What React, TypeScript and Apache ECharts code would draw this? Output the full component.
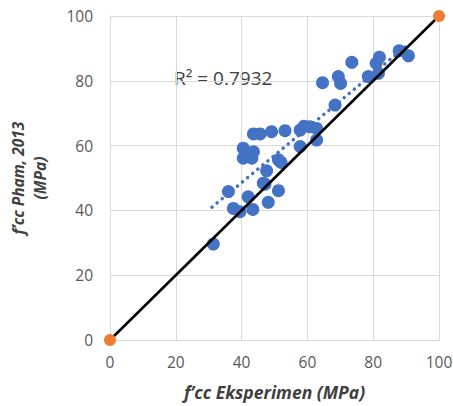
import React, { useEffect, useRef } from "react";
import * as echarts from "echarts";

// Experimental f'cc (MPa)
const expValues: number[] = [
  31.4, 36.0, 37.5, 39.5, 42.0, 43.4, 48.1, 51.2, 47.1, 46.6, 47.6, 51.2, 52.0,
  40.5, 43.6, 40.5, 43.1, 43.6, 45.6, 49.1, 53.2, 57.8, 60.8, 62.8, 57.8, 62.8,
  68.4, 64.6, 69.4, 70.1, 73.5, 78.5, 81.6, 80.9, 81.9, 87.9, 90.7, 59.0,
];
// Predicted f'cc Pham, 2013 (MPa)
const phamValues: number[] = [
  29.6, 45.8, 40.6, 39.6, 44.2, 40.3, 42.5, 46.1, 48.1, 48.4, 52.2, 55.6, 54.8,
  59.2, 58.1, 56.1, 56.1, 63.6, 63.6, 64.3, 64.6, 64.8, 65.8, 65.3, 59.7, 61.7,
  72.5, 79.4, 81.3, 79.2, 85.7, 81.3, 82.3, 85.4, 87.3, 89.3, 87.7, 66.0,
];
// 1:1 reference line
const refLine: number[][] = [
  [0, 0],
  [100, 100],
];
// Linear trendline endpoints
const trendLine: number[][] = [
  [31, 41],
  [91, 91.5],
];
const r2Label = "R² = 0.7932";
const xTitle = "f’cc Eksperimen (MPa)";
const yTitle = "f’cc Pham, 2013\n(MPa)";

export default function App() {
  const ref = useRef<HTMLDivElement>(null);
  useEffect(() => {
    if (!ref.current) return;
    const chart = echarts.init(ref.current, null, { renderer: "svg" });
    const font = "'Open Sans', Lato, sans-serif";
    const scatterData = expValues.map((x, i) => [x, phamValues[i]]);
    chart.setOption({
      animation: false,
      grid: {
        left: 110,
        right: 14,
        top: 16,
        bottom: 66,
        containLabel: false,
        outerBoundsMode: "none",
      },
      xAxis: {
        type: "value",
        min: 0,
        max: 100,
        interval: 20,
        name: xTitle,
        nameLocation: "middle",
        nameGap: 43,
        nameTextStyle: {
          fontFamily: font,
          fontSize: 17.5,
          fontWeight: "bold",
          fontStyle: "italic",
          color: "#404040",
        },
        axisLine: { show: true, lineStyle: { color: "#d9d9d9", width: 1 } },
        axisTick: { show: false },
        axisLabel: { fontFamily: font, fontSize: 15.5, color: "#595959", margin: 14 },
        splitLine: { show: true, lineStyle: { color: "#d9d9d9", width: 1 } },
      },
      yAxis: {
        type: "value",
        min: 0,
        max: 100,
        interval: 20,
        name: yTitle,
        nameLocation: "middle",
        nameGap: 59,
        nameTextStyle: {
          fontFamily: font,
          fontSize: 15.5,
          fontWeight: "bold",
          fontStyle: "italic",
          color: "#404040",
          lineHeight: 22,
        },
        axisLine: { show: true, lineStyle: { color: "#d9d9d9", width: 1 } },
        axisTick: { show: false },
        axisLabel: { fontFamily: font, fontSize: 15.5, color: "#595959", margin: 17 },
        splitLine: { show: true, lineStyle: { color: "#d9d9d9", width: 1 } },
      },
      graphic: [
        {
          type: "text",
          left: 174,
          top: 68,
          style: {
            text: r2Label,
            fontFamily: font,
            fontSize: 19,
            fill: "#404040",
          },
        },
      ],
      series: [
        {
          type: "scatter",
          data: scatterData,
          symbol: "circle",
          symbolSize: 13,
          itemStyle: { color: "#4472C4", opacity: 1 },
          z: 2,
        },
        {
          type: "line",
          data: trendLine,
          showSymbol: false,
          symbol: "none",
          lineStyle: { color: "#4472C4", width: 3.5, type: [0.1, 6.5], cap: "round" },
          z: 3,
        },
        {
          type: "line",
          data: refLine,
          symbol: "circle",
          symbolSize: 12,
          showSymbol: true,
          itemStyle: { color: "#ED7D31", borderWidth: 0 },
          lineStyle: { color: "#000000", width: 2.6 },
          z: 4,
        },
      ],
    });
    return () => chart.dispose();
  }, []);
  return (
    <div
      ref={ref}
      style={{ position: "fixed", left: 0, top: 0, width: 453, height: 406, background: "#fff" }}
    />
  );
}
